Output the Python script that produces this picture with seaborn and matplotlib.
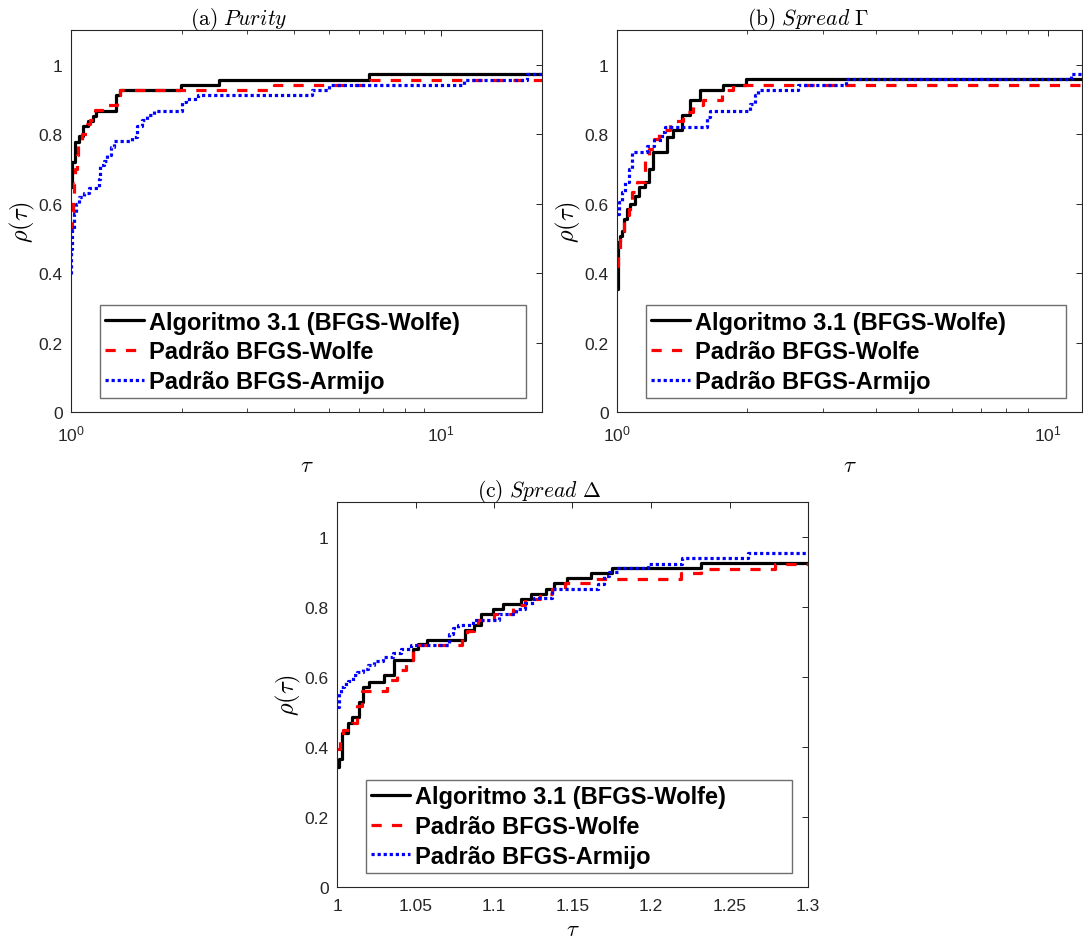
import matplotlib
matplotlib.use("Agg")
import matplotlib.pyplot as plt
import matplotlib.ticker as mticker
import seaborn as sns

# ---- performance profiles: tau breakpoints and rho(tau) levels ----
SERIES_NAMES = ["Algoritmo 3.1 (BFGS-Wolfe)", "Padrão BFGS-Wolfe", "Padrão BFGS-Armijo"]

# (a) Purity
A_TAU_ALG = [1, 1.006, 1.027, 1.049, 1.078, 1.11, 1.148, 1.172, 1.32, 1.356, 1.98, 2.52, 6.39, 18.8]
A_RHO_ALG = [0.647, 0.72, 0.777, 0.794, 0.823, 0.839, 0.853, 0.867, 0.912, 0.926, 0.942, 0.957, 0.972, 0.972]
A_TAU_WOL = [1, 1.006, 1.012, 1.02, 1.027, 1.035, 1.045, 1.071, 1.105, 1.128, 1.152, 1.164, 1.227,
             1.328, 1.356, 3.55, 6.42, 18.8]
A_RHO_WOL = [0.52, 0.575, 0.62, 0.66, 0.70, 0.74, 0.775, 0.801, 0.83, 0.84, 0.856, 0.87, 0.885,
             0.912, 0.926, 0.942, 0.957, 0.957]
A_TAU_ARM = [1, 1.002, 1.006, 1.017, 1.034, 1.049, 1.082, 1.117, 1.19, 1.2, 1.227, 1.253, 1.279,
             1.311, 1.465, 1.511, 1.559, 1.609, 1.677, 1.991, 2.045, 2.2, 4.5, 4.99, 11.6, 17.1, 18.8]
A_RHO_ARM = [0.398, 0.47, 0.523, 0.571, 0.60, 0.619, 0.631, 0.645, 0.671, 0.71, 0.724, 0.741, 0.763,
             0.779, 0.792, 0.825, 0.84, 0.854, 0.868, 0.892, 0.90, 0.912, 0.926, 0.942, 0.957, 0.972, 0.972]

# (b) Spread Gamma
B_TAU_ALG = [1, 1.004, 1.018, 1.027, 1.040, 1.055, 1.074, 1.102, 1.122, 1.163, 1.184, 1.211, 1.305,
             1.352, 1.414, 1.478, 1.559, 1.759, 1.991, 12.0]
B_RHO_ALG = [0.354, 0.489, 0.508, 0.522, 0.556, 0.585, 0.599, 0.623, 0.647, 0.662, 0.700, 0.748, 0.792,
             0.811, 0.854, 0.897, 0.926, 0.942, 0.958, 0.958]
B_TAU_WOL = [1, 1.004, 1.018, 1.04, 1.064, 1.083, 1.112, 1.163, 1.184, 1.216, 1.249, 1.328, 1.426,
             1.505, 1.587, 1.75, 1.862, 12.0]
B_RHO_WOL = [0.42, 0.47, 0.508, 0.566, 0.585, 0.633, 0.662, 0.729, 0.758, 0.787, 0.811, 0.839, 0.864,
             0.883, 0.897, 0.926, 0.942, 0.942]
B_TAU_ARM = [1, 1.009, 1.027, 1.045, 1.064, 1.083, 1.173, 1.216, 1.271, 1.294, 1.615, 1.644, 2.036,
             2.091, 2.128, 2.63, 3.4, 11.3, 12.0]
B_RHO_ARM = [0.571, 0.604, 0.633, 0.662, 0.70, 0.748, 0.767, 0.782, 0.806, 0.82, 0.849, 0.868, 0.887,
             0.912, 0.926, 0.942, 0.958, 0.972, 0.972]

# (c) Spread Delta
C_TAU_ALG = [1, 1.001, 1.0032, 1.0068, 1.0096, 1.0142, 1.0163, 1.0206, 1.0301, 1.0365, 1.0486, 1.0514,
             1.0571, 1.0817, 1.0875, 1.0917, 1.0992, 1.1055, 1.1172, 1.1236, 1.1331, 1.138, 1.1467,
             1.162, 1.175, 1.232, 1.3]
C_RHO_ALG = [0.342, 0.365, 0.44, 0.47, 0.487, 0.53, 0.572, 0.586, 0.605, 0.649, 0.68, 0.694,
             0.706, 0.734, 0.75, 0.78, 0.795, 0.809, 0.823, 0.837, 0.852, 0.868, 0.882,
             0.897, 0.911, 0.925, 0.925]
C_TAU_WOL = [1, 1.002, 1.004, 1.0095, 1.013, 1.016, 1.032, 1.038, 1.044, 1.0486, 1.0514, 1.0795,
             1.083, 1.0875, 1.09, 1.1, 1.112, 1.12, 1.129, 1.137, 1.145, 1.164, 1.219, 1.232, 1.279, 1.3]
C_RHO_WOL = [0.393, 0.42, 0.45, 0.469, 0.516, 0.56, 0.592, 0.619, 0.649, 0.684, 0.692, 0.717,
             0.731, 0.746, 0.764, 0.78, 0.806, 0.822, 0.837, 0.852, 0.869, 0.88, 0.896, 0.910, 0.924, 0.924]
C_TAU_ARM = [1, 1.001, 1.0025, 1.0047, 1.0068, 1.01, 1.013, 1.0163, 1.0195, 1.0238, 1.029, 1.0355,
             1.0408, 1.047, 1.0716, 1.0737, 1.0769, 1.0864, 1.1034, 1.114, 1.12, 1.1257, 1.137,
             1.166, 1.17, 1.173, 1.179, 1.198, 1.22, 1.262, 1.3]
C_RHO_ARM = [0.515, 0.553, 0.572, 0.581, 0.59, 0.605, 0.614, 0.623, 0.633, 0.647, 0.656, 0.67,
             0.68, 0.692, 0.722, 0.741, 0.75, 0.764, 0.78, 0.795, 0.811, 0.825, 0.852,
             0.866, 0.889, 0.9, 0.911, 0.924, 0.94, 0.954, 0.954]

Y_TICKS = [0, 0.2, 0.4, 0.6, 0.8, 1]
Y_TICK_LABELS = ["0", "0.2", "0.4", "0.6", "0.8", "1"]
C_X_TICKS = [1, 1.05, 1.1, 1.15, 1.2, 1.25, 1.3]
C_X_TICK_LABELS = ["1", "1.05", "1.1", "1.15", "1.2", "1.25", "1.3"]

TITLES = [r"$\mathrm{(a)}\ \mathit{Purity}$",
          r"$\mathrm{(b)}\ \mathit{Spread}\ \Gamma$",
          r"$\mathrm{(c)}\ \mathit{Spread}\ \Delta$"]

# ---- style ----
sns.set_style("white")
plt.rcParams["font.family"] = ["Liberation Sans", "DejaVu Sans"]
plt.rcParams["mathtext.fontset"] = "cm"
plt.rcParams["axes.unicode_minus"] = False

AX_COLOR = "#262626"
LINE_STYLES = [
    dict(color="black", lw=2.3, ls="-"),
    dict(color="#ff0000", lw=2.3, ls=(0, (3.2, 3.2))),
    dict(color="#0000ff", lw=2.3, ls=(0, (1.0, 0.9))),
]

fig = plt.figure(figsize=(10.83, 9.45), dpi=100)
W, H = 1083, 945
ax_a = fig.add_axes([71 / W, (H - 413) / H, 471 / W, 382 / H])
ax_b = fig.add_axes([617 / W, (H - 413) / H, 465 / W, 382 / H])
ax_c = fig.add_axes([337 / W, (H - 888) / H, 471 / W, 385 / H])

# caption centre of each panel, as a fraction of the axes width
TITLE_X = [0.357, 0.411, 0.429]

panels = [
    (ax_a, [(A_TAU_ALG, A_RHO_ALG), (A_TAU_WOL, A_RHO_WOL), (A_TAU_ARM, A_RHO_ARM)], True),
    (ax_b, [(B_TAU_ALG, B_RHO_ALG), (B_TAU_WOL, B_RHO_WOL), (B_TAU_ARM, B_RHO_ARM)], True),
    (ax_c, [(C_TAU_ALG, C_RHO_ALG), (C_TAU_WOL, C_RHO_WOL), (C_TAU_ARM, C_RHO_ARM)], False),
]

for (ax, series, logx), title, tx in zip(panels, TITLES, TITLE_X):
    for (tau, rho), name, st in zip(series, SERIES_NAMES, LINE_STYLES):
        sns.lineplot(x=tau, y=rho, ax=ax, drawstyle="steps-post", estimator=None,
                     errorbar=None, sort=False, label=name, color=st["color"],
                     linewidth=st["lw"], linestyle=st["ls"])
        ax.lines[-1].set_linestyle(st["ls"])

    if logx:
        ax.set_xscale("log")
        ax.set_xlim(series[0][0][0], series[0][0][-1])
        ax.set_xticks([1, 10])
        ax.xaxis.set_major_formatter(mticker.LogFormatterSciNotation())
        ax.xaxis.set_minor_locator(mticker.LogLocator(base=10, subs=range(2, 10)))
        ax.xaxis.set_minor_formatter(mticker.NullFormatter())
    else:
        ax.set_xlim(1, 1.3)
        ax.set_xticks(C_X_TICKS)
        ax.set_xticklabels(C_X_TICK_LABELS)

    ax.set_ylim(0, 1.1)
    ax.set_yticks(Y_TICKS)
    ax.set_yticklabels(Y_TICK_LABELS)

    ax.tick_params(axis="both", which="major", direction="in", top=True, right=True,
                   length=4.5, width=0.7, color=AX_COLOR, labelcolor=AX_COLOR,
                   labelsize=12.5, pad=6)
    ax.tick_params(axis="x", which="major", pad=8)
    ax.tick_params(axis="x", which="minor", direction="in", top=True, bottom=True,
                   length=3, width=0.6, color=AX_COLOR)
    for sp in ax.spines.values():
        sp.set_visible(True)
        sp.set_color(AX_COLOR)
        sp.set_linewidth(0.8)

    ax.set_title(title, fontsize=15.5, pad=4, color="black", x=tx)
    ax.set_ylabel(r"$\rho(\tau)$", fontsize=17.5, labelpad=1, color="black")
    ax.set_xlabel(r"$\tau$", fontsize=16.5, labelpad=7 if logx else 3, color="black")

    leg = ax.legend(loc="lower left", bbox_to_anchor=(0.0616, 0.0366, 0.9045, 0.2),
                    mode="expand", borderaxespad=0,
                    prop={"weight": "bold", "size": 17},
                    handlelength=1.65, handletextpad=0.2, borderpad=0.22,
                    labelspacing=0.28, fancybox=False, frameon=True, labelcolor="black")
    frame = leg.get_frame()
    frame.set_edgecolor("#6e6e6e")
    frame.set_linewidth(1.0)
    frame.set_facecolor("white")
    frame.set_alpha(1)

fig.savefig("out.png", dpi=100, facecolor="white")
